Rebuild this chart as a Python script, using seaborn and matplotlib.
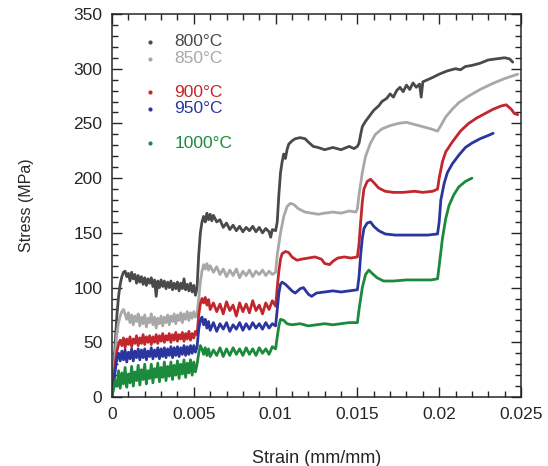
import pandas as pd
import seaborn as sns
import matplotlib.pyplot as plt
from matplotlib.ticker import MultipleLocator

# (strain x 1000, stress MPa)
curve_800 = [(0, 0), (0.1, 25), (0.2, 50), (0.3, 75), (0.4, 92), (0.5, 103), (0.6, 110), (0.7, 114), (0.8, 115), (0.9, 110),
             (1.0, 113), (1.1, 106), (1.2, 114), (1.3, 108), (1.4, 112), (1.5, 104), (1.6, 111), (1.7, 105), (1.8, 110), (1.9, 103),
             (2.0, 109), (2.1, 102), (2.2, 108), (2.3, 104), (2.4, 109), (2.5, 101), (2.6, 107), (2.7, 92), (2.8, 106), (2.9, 100),
             (3.0, 107), (3.1, 101), (3.2, 106), (3.3, 99), (3.4, 105), (3.5, 100), (3.6, 106), (3.7, 98), (3.8, 104), (3.9, 99),
             (4.0, 105), (4.1, 97), (4.2, 104), (4.3, 99), (4.4, 108), (4.5, 98), (4.6, 103), (4.7, 97), (4.8, 104), (4.9, 96),
             (5.0, 102), (5.1, 93), (5.2, 100), (5.3, 130), (5.4, 150), (5.5, 160), (5.6, 165), (5.7, 160), (5.8, 168), (5.9, 162),
             (6.0, 167), (6.1, 161), (6.2, 166), (6.4, 160), (6.6, 162), (6.8, 155), (7.0, 159), (7.2, 153), (7.4, 157), (7.6, 152),
             (7.8, 156), (8.0, 151), (8.2, 155), (8.4, 152), (8.6, 156), (8.8, 151), (9.0, 155), (9.2, 150), (9.4, 154), (9.6, 151),
             (9.7, 146), (9.8, 153), (10.0, 152), (10.1, 160), (10.2, 185), (10.3, 205), (10.4, 215), (10.5, 222), (10.6, 218),
             (10.7, 226), (10.8, 231), (11.0, 234), (11.2, 236), (11.5, 237), (11.8, 236), (12.0, 233), (12.3, 229), (12.6, 228),
             (13.0, 226), (13.5, 228), (14.0, 226), (14.5, 229), (14.8, 227), (15.0, 229), (15.1, 232), (15.2, 240), (15.3, 247),
             (15.5, 252), (15.8, 258), (16.0, 262), (16.3, 266), (16.5, 270), (16.8, 273), (17.0, 277), (17.2, 274), (17.4, 280),
             (17.6, 283), (17.8, 279), (18.0, 285), (18.2, 281), (18.4, 287), (18.6, 283), (18.8, 286), (18.9, 274), (19.0, 288),
             (19.3, 290), (19.6, 292), (20.0, 295), (20.5, 298), (21.0, 300), (21.3, 299), (21.6, 302), (22.0, 303), (22.5, 305),
             (23.0, 308), (23.5, 309), (24.0, 310), (24.3, 309), (24.5, 306)]

curve_850 = [(0, 0), (0.1, 20), (0.2, 40), (0.3, 58), (0.4, 68), (0.5, 74), (0.6, 78), (0.7, 80), (0.8, 76),
             (0.9, 71), (1.0, 77), (1.1, 68), (1.2, 75), (1.3, 66), (1.4, 74), (1.5, 69), (1.6, 76), (1.7, 65), (1.8, 73), (1.9, 67),
             (2.0, 75), (2.1, 64), (2.2, 72), (2.3, 68), (2.4, 76), (2.5, 66), (2.6, 73), (2.7, 63), (2.8, 72), (2.9, 67),
             (3.0, 74), (3.1, 65), (3.2, 73), (3.3, 68), (3.4, 75), (3.5, 66), (3.6, 74), (3.7, 69), (3.8, 76), (3.9, 67),
             (4.0, 75), (4.1, 70), (4.2, 77), (4.3, 68), (4.4, 76), (4.5, 71), (4.6, 78), (4.7, 70), (4.8, 77), (4.9, 72),
             (5.0, 78), (5.1, 73), (5.2, 76), (5.3, 90), (5.4, 105), (5.5, 115), (5.6, 121), (5.7, 117), (5.8, 122), (5.9, 116),
             (6.0, 120), (6.2, 114), (6.4, 119), (6.6, 112), (6.8, 117), (7.0, 110), (7.2, 116), (7.4, 111), (7.6, 117), (7.8, 109),
             (8.0, 115), (8.2, 111), (8.4, 116), (8.6, 110), (8.8, 115), (9.0, 112), (9.2, 116), (9.4, 111), (9.6, 115), (9.8, 112),
             (10.0, 114), (10.1, 130), (10.3, 150), (10.5, 165), (10.7, 174), (10.9, 177), (11.1, 176), (11.4, 172), (11.8, 169),
             (12.2, 168), (12.6, 167), (13.0, 168), (13.5, 169), (14.0, 168), (14.5, 170), (14.9, 169), (15.0, 172), (15.1, 185),
             (15.3, 205), (15.5, 220), (15.8, 232), (16.1, 240), (16.5, 245), (17.0, 248), (17.5, 250), (18.0, 251), (18.5, 249),
             (19.0, 247), (19.5, 245), (19.9, 243), (20.1, 248), (20.4, 256), (20.8, 263), (21.2, 269), (21.8, 275), (22.5, 281),
             (23.2, 286), (24.0, 291), (24.8, 295)]

curve_900 = [(0, 0), (0.1, 15), (0.2, 30), (0.3, 42), (0.4, 48), (0.5, 52),
             (0.6, 47), (0.7, 54), (0.8, 45), (0.9, 53), (1.0, 48), (1.1, 55), (1.2, 46), (1.3, 53), (1.4, 49), (1.5, 56),
             (1.6, 47), (1.7, 54), (1.8, 49), (1.9, 57), (2.0, 48), (2.1, 55), (2.2, 50), (2.3, 56), (2.4, 48), (2.5, 55),
             (2.6, 50), (2.7, 57), (2.8, 49), (2.9, 56), (3.0, 51), (3.1, 58), (3.2, 50), (3.3, 56), (3.4, 52), (3.5, 58),
             (3.6, 50), (3.7, 57), (3.8, 52), (3.9, 59), (4.0, 51), (4.1, 57), (4.2, 53), (4.3, 59), (4.4, 51), (4.5, 58),
             (4.6, 53), (4.7, 60), (4.8, 52), (4.9, 58), (5.0, 54), (5.1, 60), (5.2, 57), (5.3, 75), (5.4, 85), (5.5, 90),
             (5.6, 86), (5.7, 91), (5.8, 84), (5.9, 89), (6.0, 80), (6.2, 86), (6.4, 78), (6.6, 85), (6.8, 76), (7.0, 87),
             (7.2, 79), (7.4, 84), (7.6, 74), (7.8, 86), (8.0, 78), (8.2, 85), (8.4, 77), (8.6, 88), (8.8, 79), (9.0, 84),
             (9.2, 76), (9.4, 86), (9.6, 80), (9.8, 88), (10.0, 83), (10.1, 100), (10.2, 115), (10.3, 126), (10.4, 131),
             (10.6, 133), (10.8, 132), (11.0, 128), (11.3, 125), (11.6, 126), (12.0, 127), (12.4, 128), (12.8, 126), (13.0, 122),
             (13.3, 121), (13.5, 124), (13.8, 127), (14.2, 128), (14.6, 127), (15.0, 128), (15.1, 140), (15.2, 160), (15.3, 178),
             (15.4, 190), (15.6, 197), (15.8, 199), (16.0, 196), (16.3, 191), (16.7, 188), (17.2, 187), (17.8, 187), (18.5, 188),
             (19.0, 187), (19.6, 188), (19.9, 190), (20.0, 200), (20.2, 215), (20.4, 224), (20.8, 233), (21.3, 243), (21.8, 250),
             (22.3, 255), (22.8, 259), (23.3, 263), (23.8, 266), (24.1, 267), (24.4, 263), (24.6, 259), (24.8, 258)]

curve_950 = [(0, 0), (0.1, 12), (0.2, 25), (0.3, 35), (0.4, 40),
             (0.5, 33), (0.6, 42), (0.7, 34), (0.8, 43), (0.9, 32), (1.0, 41), (1.1, 35), (1.2, 44), (1.3, 33), (1.4, 42),
             (1.5, 36), (1.6, 44), (1.7, 34), (1.8, 43), (1.9, 36), (2.0, 44), (2.1, 34), (2.2, 42), (2.3, 37), (2.4, 45),
             (2.5, 35), (2.6, 43), (2.7, 37), (2.8, 45), (2.9, 35), (3.0, 44), (3.1, 37), (3.2, 45), (3.3, 36), (3.4, 44),
             (3.5, 38), (3.6, 46), (3.7, 36), (3.8, 45), (3.9, 38), (4.0, 46), (4.1, 37), (4.2, 45), (4.3, 39), (4.4, 47),
             (4.5, 38), (4.6, 46), (4.7, 39), (4.8, 47), (4.9, 40), (5.0, 47), (5.1, 41), (5.2, 46), (5.3, 62), (5.4, 70),
             (5.5, 73), (5.6, 66), (5.7, 71), (5.8, 63), (5.9, 69), (6.0, 61), (6.2, 68), (6.4, 60), (6.6, 67), (6.8, 62),
             (7.0, 68), (7.2, 60), (7.4, 66), (7.6, 62), (7.8, 68), (8.0, 61), (8.2, 67), (8.4, 62), (8.6, 68), (8.8, 63),
             (9.0, 67), (9.2, 62), (9.4, 68), (9.6, 63), (9.8, 67), (10.0, 65), (10.1, 80), (10.2, 95), (10.3, 103), (10.4, 105),
             (10.6, 103), (10.8, 100), (11.0, 97), (11.2, 95), (11.5, 99), (11.7, 100), (12.0, 94), (12.2, 92), (12.5, 95),
             (13.0, 96), (13.5, 97), (14.0, 96), (14.5, 97), (15.0, 98), (15.1, 110), (15.2, 130), (15.3, 145), (15.4, 154),
             (15.6, 159), (15.8, 160), (16.0, 156), (16.3, 152), (16.7, 149), (17.3, 148), (18.0, 148), (18.7, 148), (19.3, 148),
             (19.9, 149), (20.0, 160), (20.1, 180), (20.3, 195), (20.5, 205), (20.8, 213), (21.2, 221), (21.6, 228), (22.0, 232),
             (22.5, 236), (23.0, 239), (23.3, 241)]

curve_1000 = [(0, 0), (0.1, 8), (0.2, 15),
              (0.3, 10), (0.4, 24), (0.5, 8), (0.6, 22), (0.7, 12), (0.8, 27), (0.9, 9), (1.0, 21), (1.1, 13), (1.2, 28),
              (1.3, 10), (1.4, 23), (1.5, 15), (1.6, 29), (1.7, 11), (1.8, 25), (1.9, 16), (2.0, 30), (2.1, 12), (2.2, 24),
              (2.3, 17), (2.4, 30), (2.5, 13), (2.6, 26), (2.7, 18), (2.8, 31), (2.9, 14), (3.0, 27), (3.1, 18), (3.2, 32),
              (3.3, 15), (3.4, 28), (3.5, 19), (3.6, 32), (3.7, 16), (3.8, 29), (3.9, 20), (4.0, 33), (4.1, 17), (4.2, 30),
              (4.3, 21), (4.4, 34), (4.5, 18), (4.6, 31), (4.7, 22), (4.8, 34), (4.9, 20), (5.0, 32), (5.1, 23), (5.2, 30),
              (5.3, 40), (5.4, 47), (5.5, 44), (5.6, 39), (5.7, 45), (5.8, 38), (5.9, 44), (6.0, 37), (6.2, 43), (6.4, 38),
              (6.6, 45), (6.8, 37), (7.0, 44), (7.2, 38), (7.4, 45), (7.6, 39), (7.8, 44), (8.0, 38), (8.2, 45), (8.4, 39),
              (8.6, 44), (8.8, 38), (9.0, 45), (9.2, 40), (9.4, 44), (9.6, 39), (9.8, 46), (10.0, 44), (10.1, 55), (10.2, 65),
              (10.3, 71), (10.5, 70), (10.7, 67), (11.0, 66), (11.5, 67), (12.0, 65), (12.5, 66), (13.0, 67), (13.5, 66),
              (14.0, 67), (14.5, 68), (15.0, 68), (15.1, 80), (15.3, 100), (15.5, 112), (15.7, 116), (15.9, 113), (16.2, 109),
              (16.6, 106), (17.2, 106), (18.0, 107), (18.8, 107), (19.5, 107), (19.9, 108), (20.0, 120), (20.2, 145),
              (20.4, 163), (20.6, 175), (20.9, 185), (21.2, 192), (21.6, 197), (22.0, 200)]

temps = ['800°C', '850°C', '900°C', '950°C', '1000°C']
curves = [curve_800, curve_850, curve_900, curve_950, curve_1000]
colors = ['#4a4a4a', '#a8a8a8', '#c1272d', '#2b35a0', '#1c8a3c']

xticks = [0, 0.005, 0.01, 0.015, 0.02, 0.025]
xtick_labels = ['0', '0.005', '0.01', '0.015', '0.02', '0.025']

rows = []
for t, c in zip(temps, curves):
    for s, p in c:
        rows.append({'strain': s / 1000, 'stress': p, 'temp': t})
df = pd.DataFrame(rows)

sns.set_style('ticks')
plt.rcParams['font.family'] = ['Liberation Sans', 'DejaVu Sans']

fig = plt.figure(figsize=(5.48, 4.66), dpi=100)
ax = fig.add_axes([0.2044, 0.148, 0.7463, 0.822])
sns.lineplot(data=df, x='strain', y='stress', hue='temp', palette=colors,
             sort=False, estimator=None, linewidth=2.0, legend=False, ax=ax)

ax.set_xlim(0, 0.025)
ax.set_ylim(0, 350)
ax.set_xticks(xticks)
ax.set_xticklabels(xtick_labels)
ax.set_yticks(range(0, 351, 50))
ax.xaxis.set_minor_locator(MultipleLocator(0.001))
ax.yaxis.set_minor_locator(MultipleLocator(10))
ax.tick_params(which='both', direction='in', top=True, right=True, labelsize=12.5, pad=7, width=1)
ax.tick_params(which='major', length=7)
ax.tick_params(which='minor', length=4)
for sp in ax.spines.values():
    sp.set_linewidth(1.1)

ax.set_xlabel('Strain (mm/mm)', fontsize=13, labelpad=20)
ax.set_ylabel('Stress (MPa)', fontsize=11.5, labelpad=28)

# legend: dot plus coloured label
leg_y = [0.927, 0.883, 0.796, 0.752, 0.663]
for t, col, y in zip(temps, colors, leg_y):
    ax.plot([0.093], [y], marker='o', markersize=2, color=col, transform=ax.transAxes)
    ax.text(0.152, y, t, color=col, fontsize=12.5, va='center', ha='left', transform=ax.transAxes)

fig.savefig('out.png', dpi=100)
